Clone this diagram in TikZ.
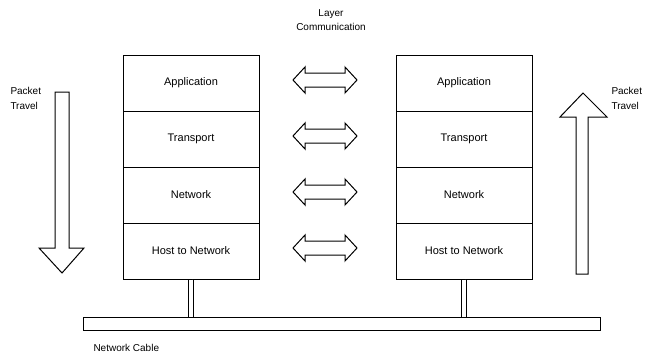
\documentclass[tikz,border=0pt]{standalone}
\usepackage{fontspec}
\setmainfont{Liberation Sans}
\begin{document}
\begin{tikzpicture}[x=1pt,y=-1pt,line width=1pt,line join=miter,
  layerbox/.style={draw,minimum width=136pt,minimum height=56pt,inner sep=0pt,
    font=\fontsize{11}{13}\selectfont},
  caption/.style={font=\fontsize{10}{15}\selectfont,align=left,inner sep=0pt},
  pipe/.style={double distance=4.5pt,line width=0.9pt},
  % hollow two-headed arrow, 64pt long, 26pt across the heads
  peer/.pic={\draw (-32,0) -- (-20,-13) -- (-20,-7) -- (20,-7) -- (20,-13) -- (32,0)
      -- (20,13) -- (20,7) -- (-20,7) -- (-20,13) -- cycle;}]
\useasboundingbox (0,0) rectangle (647,356);

% left host protocol stack
\node[layerbox] (la) at (191,83)  {Application};
\node[layerbox] (lt) at (191,139) {Transport};
\node[layerbox] (ln) at (191,195) {Network};
\node[layerbox] (lh) at (191,251) {Host to Network};

% right host protocol stack
\node[layerbox] (ra) at (464,83)  {Application};
\node[layerbox] (rt) at (464,139) {Transport};
\node[layerbox] (rn) at (464,195) {Network};
\node[layerbox] (rh) at (464,251) {Host to Network};

% peer-to-peer arrows between matching layers
\pic (pa) at (325,80)  {peer};
\pic (pt) at (325,136) {peer};
\pic (pn) at (325,192) {peer};
\pic (ph) at (325,248) {peer};

\node[font=\fontsize{10}{14}\selectfont,align=center,inner sep=0pt] (lc) at (331,20)
  {Layer\\Communication};

% packet travel direction: down on the sender, up on the receiver
\draw (55,92) -- (69,92) -- (69,248) -- (84,248) -- (62,273) -- (39,248) -- (55,248) -- cycle;
\draw (576,274) -- (588,274) -- (588,117) -- (607,117) -- (583,93) -- (560,117) -- (576,117) -- cycle;
\node[caption,anchor=west] (ptl) at (10,98)  {Packet\\Travel};
\node[caption,anchor=west] (ptr) at (611,98) {Packet\\Travel};

% network cable and host connections
\node[draw,minimum width=517pt,minimum height=13pt,inner sep=0pt] (cable) at (341.5,323.5) {};
\draw[pipe] (lh.south) -- (lh.south |- cable.north);
\draw[pipe] (rh.south) -- (rh.south |- cable.north);
\node[font=\fontsize{10}{12}\selectfont,anchor=west,inner sep=0pt] (nc) at (93,348) {Network Cable};
\end{tikzpicture}
\end{document}
